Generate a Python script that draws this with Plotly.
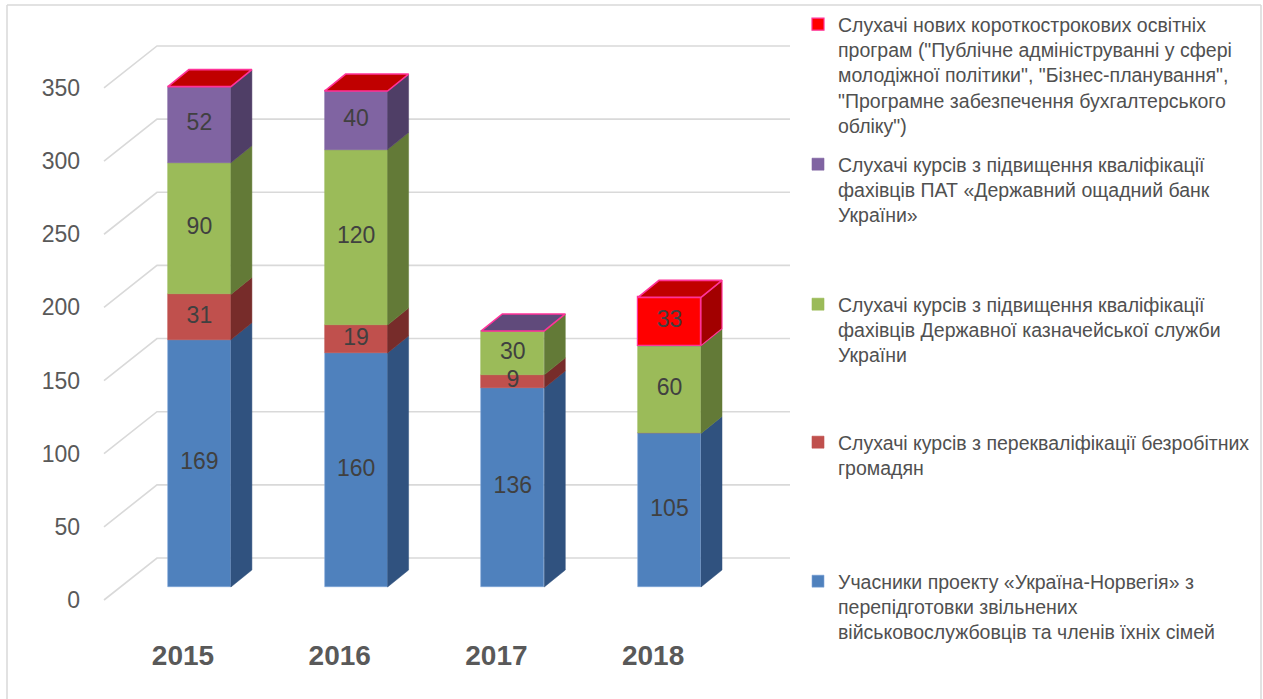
import plotly.graph_objects as go

# ---------------- data ----------------
years = ["2015", "2016", "2017", "2018"]
norway = [169, 160, 136, 105]          # blue
unemployed = [31, 19, 9, 0]            # red
treasury = [90, 120, 30, 60]           # green
oschad = [52, 40, 0, 0]                # purple
new_programs = [0, 0, None, 33]        # bright red
y_ticks = [0, 50, 100, 150, 200, 250, 300, 350]

names = [
    "Учасники проекту «Україна-Норвегія» з<br>перепідготовки звільнених<br>військовослужбовців та членів їхніх сімей",
    "Слухачі курсів з перекваліфікації безробітних<br>громадян",
    "Слухачі курсів з підвищення кваліфікації<br>фахівців Державної казначейської служби<br>України",
    "Слухачі курсів з підвищення кваліфікації<br>фахівців ПАТ «Державний ощадний банк<br>України»",
    "Слухачі нових короткострокових освітніх<br>програм (\"Публічне адмініструванні у сфері<br>молодіжної політики\", \"Бізнес-планування\",<br>\"Програмне забезпечення бухгалтерського<br>обліку\")",
]
series = [norway, unemployed, treasury, oschad, new_programs]
front_cols = ["#4F81BD", "#C0504D", "#9BBB59", "#8064A2", "#FF0000"]
side_cols = ["#30527F", "#772C2A", "#637A37", "#4F3E66", "#A20000"]
top_cols = ["#5A8AC6", "#B04240", "#8FAE4E", "#604A7B", "#C00000"]
line_cols = ["#7FA6DA", "#C0504D", "#9BBB59", "#8064A2", "#FF3399"]

# ---------------- projection constants (pixels -> axis units) ----------------
W, H = 1263, 699
PL, PR, PT, PB = 100, 790, 20, 636          # plot area in pixels
PXU, PXV = 156.7, 1.463                     # px per category, px per value
X0PX, Y0PX = 183, 600                       # front-plane position of category 0 / value 0


def u_of(px):
    return (px - X0PX) / PXU


def v_of(py):
    return (Y0PX - py) / PXV


FLOOR_DU, FLOOR_DV = 53 / PXU, 42 / PXV     # full depth of the floor
BAR_DU0, BAR_DV0 = 16.4 / PXU, 13 / PXV     # front face offset of bars
BAR_DU, BAR_DV = 21 / PXU, 17 / PXV         # bar depth
HALF_W = 31.5 / PXU

fig = go.Figure()

# ---------------- gridlines (back wall + slanted side) ----------------
gx, gy = [], []
left_u = u_of(104)
right_u = u_of(790)
for t in y_ticks:
    gx += [left_u, left_u + FLOOR_DU, right_u, None]
    gy += [t, t + FLOOR_DV, t + FLOOR_DV, None]
fig.add_trace(go.Scatter(x=gx, y=gy, mode="lines", line=dict(color="#D9D9D9", width=1.6),
                         hoverinfo="skip", showlegend=False, zorder=-5))

# ---------------- bars ----------------
n = len(years)
cum = [0.0] * n
legend_ids = ["legend5", "legend4", "legend3", "legend2", "legend"]
lab_x, lab_y, lab_t = [], [], []
tops = [None] * n
for s, vals in enumerate(series):
    xs, ys, bases = [], [], []
    sx, sy = [], []
    for i, v in enumerate(vals):
        if v is None:
            continue
        tops[i] = s
        xc = i + BAR_DU0
        b = cum[i] + BAR_DV0
        xs.append(xc)
        ys.append(v)
        bases.append(b)
        if v > 0:
            xr = xc + HALF_W
            sx += [xr, xr + BAR_DU, xr + BAR_DU, xr, xr, None]
            sy += [b, b + BAR_DV, b + v + BAR_DV, b + v, b, None]
            lab_x.append(xc)
            lab_y.append(b + v / 2)
            lab_t.append(str(v))
        cum[i] += v
    fig.add_trace(go.Bar(
        x=xs, y=ys, base=bases, width=2 * HALF_W, name=names[s],
        marker=dict(color=front_cols[s], line=dict(color=line_cols[s], width=1.2 if s == 4 else 0.6)),
        legend=legend_ids[s], hoverinfo="skip",
    ))
    if sx:
        fig.add_trace(go.Scatter(
            x=sx, y=sy, mode="lines", fill="toself", fillcolor=side_cols[s],
            line=dict(color=line_cols[s] if s == 4 else side_cols[s], width=1.2 if s == 4 else 0.5),
            hoverinfo="skip", showlegend=False))

# top faces
tx = {}
for i in range(n):
    s = tops[i]
    T = cum[i] + BAR_DV0
    xl = i + BAR_DU0 - HALF_W
    xr = i + BAR_DU0 + HALF_W
    tx.setdefault(s, ([], []))
    tx[s][0].extend([xl, xl + BAR_DU, xr + BAR_DU, xr, xl, None])
    tx[s][1].extend([T, T + BAR_DV, T + BAR_DV, T, T, None])
for s, (xx, yy) in tx.items():
    fig.add_trace(go.Scatter(x=xx, y=yy, mode="lines", fill="toself", fillcolor=top_cols[s],
                             line=dict(color="#FF3399", width=1.6), hoverinfo="skip", showlegend=False))

# data labels
fig.add_trace(go.Scatter(x=lab_x, y=lab_y, mode="text", text=lab_t,
                         textfont=dict(family="Liberation Sans, Arial, sans-serif", size=23, color="#404040"),
                         hoverinfo="skip", showlegend=False))

# ---------------- legends ----------------
leg_font = dict(family="Liberation Sans, Arial, sans-serif", size=19.5, color="#505050")
first_line_py = {"legend": 25, "legend2": 165, "legend3": 305, "legend4": 443, "legend5": 582}
leg_left_px = 798
legend_layout = {}
for lid, py in first_line_py.items():
    legend_layout[lid] = dict(
        x=(leg_left_px - PL) / (PR - PL), xanchor="left",
        y=(PB - (py - 20)) / (PB - PT), yanchor="top",
        font=leg_font, valign="top", bgcolor="rgba(0,0,0,0)",
        itemclick=False, itemdoubleclick=False, tracegroupgap=0,
    )


def px_x(px):
    return (px - PL) / (PR - PL)


def px_y(py):
    return (PB - py) / (PB - PT)


frame_col = "#D9D9D9"
shapes = [
    dict(type="line", xref="paper", yref="paper", x0=px_x(7), x1=px_x(7), y0=px_y(5), y1=px_y(705),
         line=dict(color=frame_col, width=1.5)),
    dict(type="line", xref="paper", yref="paper", x0=px_x(7), x1=px_x(1261), y0=px_y(5), y1=px_y(5),
         line=dict(color=frame_col, width=1.5)),
    dict(type="line", xref="paper", yref="paper", x0=px_x(1261), x1=px_x(1261), y0=px_y(5), y1=px_y(705),
         line=dict(color=frame_col, width=1.5)),
]

fig.update_layout(
    width=W, height=H,
    margin=dict(l=PL, r=W - PR, t=PT, b=H - PB, autoexpand=False),
    paper_bgcolor="white", plot_bgcolor="white",
    barmode="overlay", bargap=0,
    xaxis=dict(range=[u_of(PL), u_of(PR)], tickvals=list(range(n)), ticktext=years,
               showgrid=False, zeroline=False, showline=False, ticks="",
               tickfont=dict(family="Liberation Sans, Arial, sans-serif", size=28, color="#595959", weight="bold"),
               fixedrange=True),
    yaxis=dict(range=[v_of(PB), v_of(PT)], tickvals=y_ticks,
               showgrid=False, zeroline=False, showline=False, ticks="",
               ticklabelstandoff=19,
               tickfont=dict(family="Liberation Sans, Arial, sans-serif", size=23, color="#595959"),
               fixedrange=True),
    shapes=shapes,
    showlegend=True,
    **legend_layout,
)

fig.write_html("out.html", config={"displayModeBar": False},
               post_script="document.body.style.margin='0';document.body.style.overflow='hidden';")
